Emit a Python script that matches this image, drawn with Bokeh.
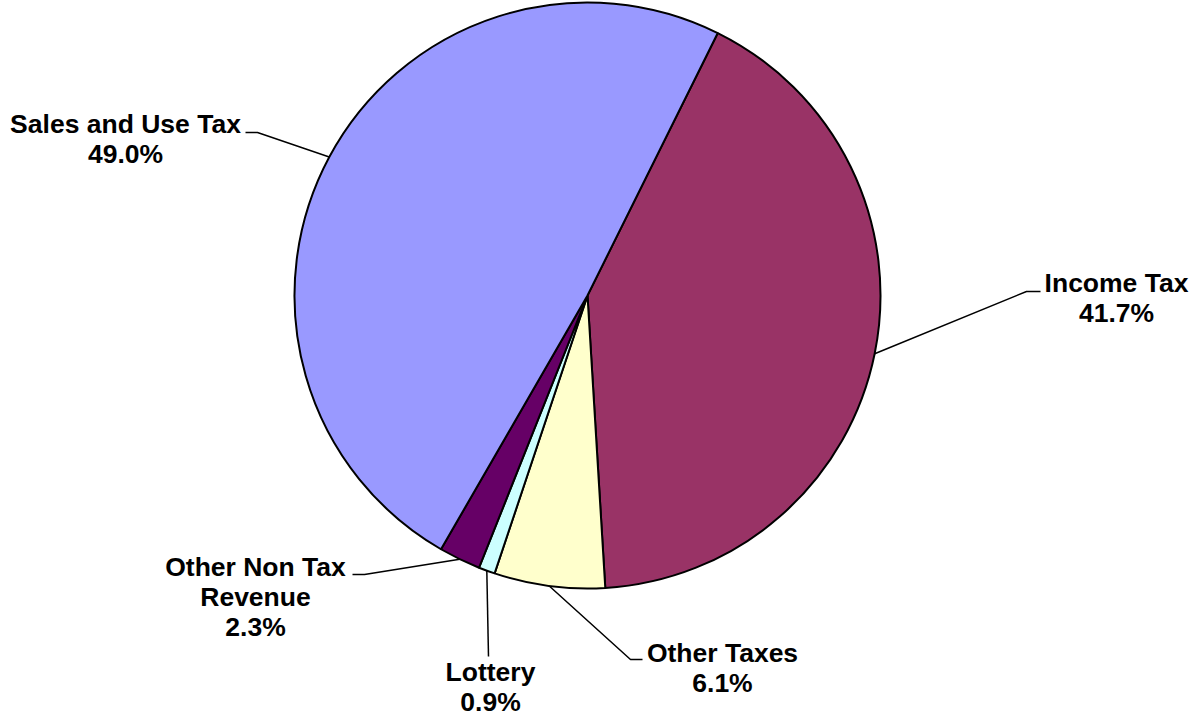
import math
from bokeh.plotting import figure
from bokeh.models import Range1d, ColumnDataSource
from bokeh.core.properties import value
from bokeh.embed import file_html
from bokeh.resources import INLINE

# ---- data ----
categories = ["Income Tax", "Other Taxes", "Lottery", "Other Non Tax Revenue", "Sales and Use Tax"]
label_names = ["Income Tax", "Other Taxes", "Lottery", "Other Non Tax\nRevenue", "Sales and Use Tax"]
shares = [41.7, 6.1, 0.9, 2.3, 49.0]
colors = ["#993366", "#FFFFCC", "#CCFFFF", "#660066", "#9999FF"]

# ---- layout (page pixel coordinates) ----
W, H = 1190, 717
def Y(py):
    return H - py

cx, cy, R = 587, Y(295), 293
start_deg = 63.6  # first slice starts here, slices go clockwise

# leader elbow / end points and label centres, per category
elbows = {
    "Income Tax": [(1026, 291), (1040, 291)],
    "Other Taxes": [(630, 659), (642, 659)],
    "Lottery": [(488, 656)],
    "Other Non Tax Revenue": [(364, 574), (352, 574)],
    "Sales and Use Tax": [(257, 132), (245, 132)],
}
label_pos = {
    "Income Tax": (1116, 297),
    "Other Taxes": (722, 667),
    "Lottery": (490, 686),
    "Other Non Tax Revenue": (255, 596),
    "Sales and Use Tax": (125, 138),
}

total = sum(shares)
starts, ends, mids = [], [], []
a = math.radians(start_deg)
for s in shares:
    span = 2 * math.pi * s / total
    starts.append(a)
    ends.append(a - span)
    mids.append(a - span / 2)
    a -= span

p = figure(width=W, height=H, output_backend="svg", toolbar_location=None,
           x_range=Range1d(0, W), y_range=Range1d(0, H),
           min_border=0)
p.axis.visible = False
p.grid.visible = False
p.outline_line_color = None
p.background_fill_color = "white"
p.border_fill_color = "white"

src = ColumnDataSource(dict(x=[cx] * len(shares), y=[cy] * len(shares),
                            start=starts, end=ends, color=colors, name=categories))
# wedge angles are given as start->end going clockwise
p.wedge(x="x", y="y", radius=R, start_angle="end", end_angle="start",
        fill_color="color", line_color="black", line_width=2, source=src)

xs, ys, tx, ty, tt = [], [], [], [], []
for cat, nm, s, m in zip(categories, label_names, shares, mids):
    px0 = cx + R * math.cos(m)
    py0 = cy + R * math.sin(m)
    lx = [px0] + [e[0] for e in elbows[cat]]
    ly = [py0] + [Y(e[1]) for e in elbows[cat]]
    xs.append(lx)
    ys.append(ly)
    lp = label_pos[cat]
    tx.append(lp[0])
    ty.append(Y(lp[1]))
    tt.append(f"{nm}\n{s:.1f}%")

p.multi_line(xs=xs, ys=ys, line_color="black", line_width=1.5)
p.text(x=tx, y=ty, text=tt, text_align="center", text_baseline="middle",
       text_font=value("Liberation Sans"), text_font_style="bold",
       text_font_size="26.5px", text_color="black", text_line_height=1.0)

open("out.html", "w").write(file_html(p, INLINE))
